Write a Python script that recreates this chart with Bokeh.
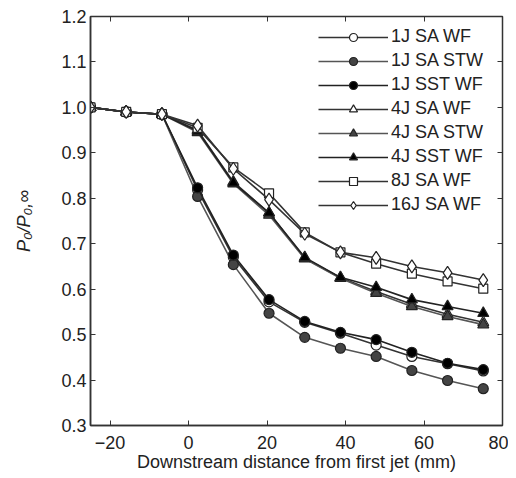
from bokeh.plotting import figure
from bokeh.models import LinearAxis, FixedTicker, Range1d, NumeralTickFormatter, CustomJSTickFormatter
from bokeh.embed import file_html
from bokeh.resources import INLINE

x = [-25, -15.9, -6.8, 2.3, 11.4, 20.5, 29.6, 38.7, 47.8, 56.9, 66.0, 75.1]

j1_sa_wf  = [1.0, 0.99, 0.985, 0.818, 0.670, 0.572, 0.527, 0.503, 0.477, 0.452, 0.436, 0.420]
j1_sa_stw = [1.0, 0.99, 0.985, 0.804, 0.654, 0.547, 0.494, 0.470, 0.452, 0.421, 0.399, 0.381]
j1_sst_wf = [1.0, 0.99, 0.985, 0.823, 0.675, 0.577, 0.529, 0.505, 0.489, 0.461, 0.437, 0.423]
j4_sa_wf  = [1.0, 0.99, 0.985, 0.950, 0.836, 0.768, 0.668, 0.625, 0.595, 0.567, 0.545, 0.527]
j4_sa_stw = [1.0, 0.99, 0.985, 0.945, 0.832, 0.763, 0.667, 0.624, 0.591, 0.562, 0.540, 0.522]
j4_sst_wf = [1.0, 0.99, 0.985, 0.948, 0.834, 0.768, 0.670, 0.626, 0.604, 0.577, 0.562, 0.547]
j8_sa_wf  = [1.0, 0.99, 0.985, 0.955, 0.868, 0.811, 0.725, 0.681, 0.656, 0.634, 0.617, 0.601]
j16_sa_wf = [1.0, 0.99, 0.985, 0.960, 0.865, 0.797, 0.722, 0.681, 0.669, 0.650, 0.636, 0.620]

series = [
    ("1J SA WF", j1_sa_wf, "circle", "white", "#333333"),
    ("1J SA STW", j1_sa_stw, "circle", "#444444", "#555555"),
    ("1J SST WF", j1_sst_wf, "circle", "black", "#222222"),
    ("4J SA WF", j4_sa_wf, "triangle", "white", "#333333"),
    ("4J SA STW", j4_sa_stw, "triangle", "#444444", "#555555"),
    ("4J SST WF", j4_sst_wf, "triangle", "black", "#222222"),
    ("8J SA WF", j8_sa_wf, "square", "white", "#333333"),
    ("16J SA WF", j16_sa_wf, "diamond", "white", "#333333"),
]

x_ticks = [-20, 0, 20, 40, 60, 80]
y_ticks = [0.3, 0.4, 0.5, 0.6, 0.7, 0.8, 0.9, 1.0, 1.1, 1.2]

FONT = "Liberation Sans"

p = figure(width=508, height=478, output_backend="svg", toolbar_location=None,
           x_range=Range1d(-25, 80), y_range=Range1d(0.3, 1.2),
           min_border_left=90, min_border_right=6, min_border_top=16, min_border_bottom=53)
p.xgrid.visible = False
p.ygrid.visible = False
p.outline_line_color = "#333333"
p.outline_line_width = 1.5

sizes = {"circle": 10, "triangle": 11, "square": 9, "diamond": 13}
for name, ys, marker, fill, lc in series:
    p.line(x, ys, line_color=lc, line_width=1.6, legend_label=name)
    p.scatter(x, ys, marker=marker, size=sizes[marker], fill_color=fill,
              line_color="#222222", line_width=1.2, legend_label=name)

for ax in p.xaxis:
    ax.ticker = FixedTicker(ticks=x_ticks)
    ax.formatter = CustomJSTickFormatter(code="return tick < 0 ? '\u2212' + Math.abs(tick) : String(tick);")
for ax in p.yaxis:
    ax.ticker = FixedTicker(ticks=y_ticks)
    ax.formatter = NumeralTickFormatter(format="0.0")

for ax in p.xaxis + p.yaxis:
    ax.major_tick_in = 5
    ax.major_tick_out = 0
    ax.minor_tick_line_color = None
    ax.axis_line_color = "#333333"
    ax.axis_line_width = 1.5
    ax.major_tick_line_color = "#333333"
    ax.major_label_text_font = FONT
    ax.major_label_text_font_size = "18px"
    ax.major_label_text_color = "#222222"
    ax.axis_label_text_font = FONT
    ax.axis_label_text_font_size = "18px"
    ax.axis_label_text_font_style = "normal"
    ax.axis_label_text_color = "#222222"

p.xaxis.axis_label = "Downstream distance from first jet (mm)"
p.xaxis.axis_label_standoff = 0
p.xaxis.major_label_standoff = 10
p.yaxis.axis_label = "P\u2080/P\u2080,\u221e"
p.yaxis.axis_label_text_font_style = "italic"
p.yaxis.major_label_standoff = 4
p.yaxis.axis_label_standoff = 24

top = LinearAxis(ticker=FixedTicker(ticks=x_ticks), major_label_text_font_size="0px",
                 major_tick_in=5, major_tick_out=0, minor_tick_line_color=None,
                 axis_line_color=None, major_tick_line_color="#333333")
right = LinearAxis(ticker=FixedTicker(ticks=y_ticks), major_label_text_font_size="0px",
                   major_tick_in=5, major_tick_out=0, minor_tick_line_color=None,
                   axis_line_color=None, major_tick_line_color="#333333")
top.major_label_text_alpha = 0
right.major_label_text_alpha = 0
p.add_layout(top, "above")
p.add_layout(right, "right")
p.min_border_top = 16
p.min_border_right = 6

lg = p.legend[0]
lg.location = (228, 210)
lg.padding = 0
lg.margin = 0
lg.spacing = 3
lg.glyph_width = 70
lg.glyph_height = 20
lg.label_height = 20
lg.label_standoff = 3
lg.label_text_font = FONT
lg.label_text_font_size = "18px"
lg.label_text_color = "#222222"
lg.border_line_alpha = 0
lg.background_fill_alpha = 0

open("out.html", "w").write(file_html(p, INLINE))
